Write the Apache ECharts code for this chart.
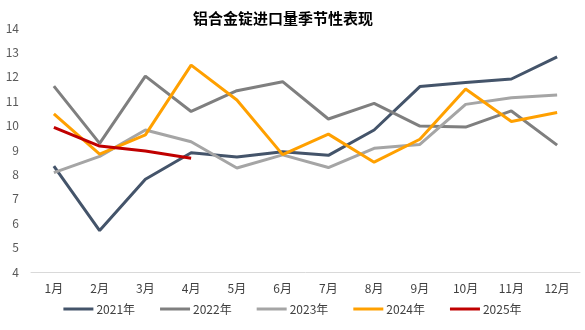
<!DOCTYPE html>
<html><head><meta charset="utf-8">
<script src="https://cdn.jsdelivr.net/npm/echarts@6/dist/echarts.min.js"></script>
<style>html,body{margin:0;padding:0;background:#fff}#c{width:585px;height:330px}</style>
</head><body><div id="c"></div>
<script>
const months = ['1月','2月','3月','4月','5月','6月','7月','8月','9月','10月','11月','12月'];
const names = ['2021年','2022年','2023年','2024年','2025年'];
const colors = ['#44546A','#7F7F7F','#A5A5A5','#FFA000','#C00000'];
const y2021 = [8.34,5.70,7.80,8.89,8.71,8.93,8.78,9.82,11.60,11.77,11.91,12.82];
const y2022 = [11.62,9.27,12.03,10.58,11.43,11.80,10.27,10.91,9.98,9.94,10.60,9.20];
const y2023 = [8.07,8.74,9.82,9.34,8.26,8.80,8.28,9.07,9.23,10.87,11.14,11.25];
const y2024 = [10.48,8.83,9.62,12.48,11.05,8.81,9.65,8.50,9.44,11.50,10.17,10.54];
const y2025 = [9.93,9.16,8.96,8.66];
const yTicks = {min:4, max:14, interval:1};
const data = [y2021,y2022,y2023,y2024,y2025];
const font = "'Noto Sans CJK SC', 'Noto Sans', sans-serif";
const chart = echarts.init(document.getElementById('c'));
chart.setOption({
  animation:false,
  title:{text:'铝合金锭进口量季节性表现', left:278, textAlign:'center', top:6,
    textStyle:{fontSize:15, fontWeight:'bold', color:'#000', fontFamily:font}},
  grid:{left:31, right:5, top:28, bottom:58},
  legend:{bottom:10, left:'center', itemWidth:30, itemHeight:3, itemGap:25, icon:'rect',
    textStyle:{fontSize:12, color:'#404040', fontFamily:font, padding:[0,0,0,-2]}, data:names},
  xAxis:{type:'category', data:months, boundaryGap:true,
    axisLine:{lineStyle:{color:'#D9D9D9', width:1}}, axisTick:{show:false},
    axisLabel:{color:'#404040', fontSize:12, margin:10, fontFamily:font}},
  yAxis:{type:'value', min:yTicks.min, max:yTicks.max, interval:yTicks.interval,
    axisLine:{show:false}, axisTick:{show:false}, splitLine:{show:false},
    axisLabel:{color:'#595959', fontSize:12, margin:12, fontFamily:font}},
  series:names.map((n,i)=>({name:n, type:'line', data:data[i], symbol:'none',
    lineStyle:{width:3, color:colors[i]}, itemStyle:{color:colors[i]}, z:i===4?10:2}))
});
</script></body></html>
